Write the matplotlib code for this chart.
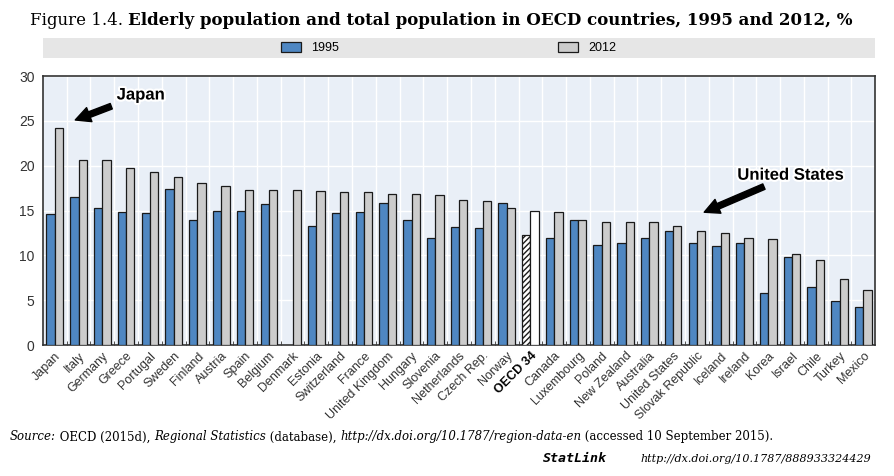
import matplotlib.pyplot as plt
import matplotlib.patheffects as pe
from matplotlib.patches import Rectangle
import numpy as np

countries = ["Japan", "Italy", "Germany", "Greece", "Portugal", "Sweden", "Finland",
             "Austria", "Spain", "Belgium", "Denmark", "Estonia", "Switzerland", "France",
             "United Kingdom", "Hungary", "Slovenia", "Netherlands", "Czech Rep.", "Norway",
             "OECD 34", "Canada", "Luxembourg", "Poland", "New Zealand", "Australia",
             "United States", "Slovak Republic", "Iceland", "Ireland", "Korea", "Israel",
             "Chile", "Turkey", "Mexico"]
y1995 = [14.6, 16.5, 15.3, 14.9, 14.7, 17.4, 14.0, 15.0, 15.0, 15.7, np.nan, 13.3, 14.7, 14.8,
         15.8, 14.0, 12.0, 13.2, 13.1, 15.9, 12.3, 12.0, 13.9, 11.2, 11.4, 12.0,
         12.7, 11.4, 11.1, 11.4, 5.8, 9.8, 6.5, 4.9, 4.3]
y2012 = [24.2, 20.7, 20.6, 19.7, 19.3, 18.8, 18.1, 17.7, 17.3, 17.3, 17.3, 17.2, 17.1, 17.1,
         16.8, 16.8, 16.7, 16.2, 16.1, 15.3, 15.0, 14.8, 14.0, 13.7, 13.7, 13.7,
         13.3, 12.7, 12.5, 11.9, 11.8, 10.2, 9.5, 7.4, 6.1]

blue = "#4f87c2"
grey = "#cccccc"
sans = ["Liberation Sans Narrow", "Liberation Sans", "DejaVu Sans"]
serif = ["DejaVu Serif"]

fig = plt.figure(figsize=(8.94, 4.76), dpi=100)
ax = fig.add_axes([0.048, 0.275, 0.931, 0.565])

x = np.arange(len(countries))
w = 0.35
oecd = countries.index("OECD 34")
c95 = [blue] * len(x)
c12 = [grey] * len(x)
c95[oecd] = "white"
c12[oecd] = "white"
b1 = ax.bar(x - w / 2, y1995, w, color=c95, edgecolor="#1a1a1a", linewidth=0.9, zorder=3)
b2 = ax.bar(x + w / 2, y2012, w, color=c12, edgecolor="#1a1a1a", linewidth=0.9, zorder=3)
b1[oecd].set_hatch("//////")

ax.set_facecolor("#e9eff7")
ax.set_xlim(-0.5, len(x) - 0.5)
ax.set_ylim(0, 30)
ax.set_yticks(range(0, 31, 5))
ax.set_xticks(x)
ax.set_xticks(x[:-1] + 0.5, minor=True)
ax.grid(True, which="minor", axis="x", color="white", lw=1.0, zorder=0)
ax.grid(True, which="major", axis="y", color="white", lw=1.0, zorder=0)
ax.tick_params(axis="x", which="both", length=3, direction="in", color="#333333")
ax.tick_params(axis="y", length=0, labelsize=10, labelcolor="#333333", pad=6)
ax.set_xticklabels(countries, rotation=45, ha="right", rotation_mode="anchor",
                   fontsize=9, family=sans, color="#333333")
ax.get_xticklabels()[oecd].set_fontweight("bold")
ax.get_xticklabels()[oecd].set_color("black")
for lab in ax.get_yticklabels():
    lab.set_family(sans)
for s in ax.spines.values():
    s.set_color("#333333")
    s.set_linewidth(1.2)

shadow = [pe.withStroke(linewidth=3, foreground="white")]
arrow = dict(arrowstyle="simple,head_width=0.9,head_length=0.9,tail_width=0.35",
             fc="black", ec="black")
ax.annotate("Japan", xy=(0.75, 25.0), xytext=(2.6, 27.9), fontsize=12, fontweight="bold",
            family=sans[1:], va="center", arrowprops=arrow, path_effects=shadow, zorder=5)
ax.annotate("United States", xy=(27.2, 14.7), xytext=(28.7, 18.95), fontsize=12,
            fontweight="bold", family=sans[1:], va="center", arrowprops=arrow,
            path_effects=shadow, zorder=5)

# legend band
fig.patches.append(Rectangle((0.048, 0.878), 0.931, 0.043, transform=fig.transFigure,
                             facecolor="#e6e6e6", edgecolor="none"))
fig.legend([b1[0], b2[0]], ["1995", "2012"], ncol=2, loc="center",
           bbox_to_anchor=(0.502, 0.899), frameon=False, columnspacing=17.5,
           handlelength=1.6, handleheight=0.9, prop={"family": sans, "size": 9})

# title
t = fig.text(0.033, 0.957, "Figure 1.4. ", family=serif, fontsize=12, va="center")
ax.annotate("Elderly population and total population in OECD countries, 1995 and 2012, %",
            xy=(1, 0), xycoords=t, va="bottom", ha="left", family=serif,
            fontsize=12, fontweight="bold", annotation_clip=False)

# source
parts = [("Source:", "italic"), (" OECD (2015d), ", "normal"),
         ("Regional Statistics", "italic"), (" (database), ", "normal"),
         ("http://dx.doi.org/10.1787/region-data-en", "italic"),
         (" (accessed 10 September 2015).", "normal")]
prev = fig.text(0.011, 0.075, parts[0][0], style=parts[0][1], family=serif, fontsize=8.5)
for txt, st in parts[1:]:
    prev = ax.annotate(txt, xy=(1, 0), xycoords=prev, va="bottom", ha="left",
                       style=st, family=serif, fontsize=8.5, annotation_clip=False)

fig.text(0.974, 0.03, "http://dx.doi.org/10.1787/888933324429", ha="right",
         style="italic", family=serif, fontsize=8)
fig.text(0.607, 0.03, "StatLink", ha="left", style="italic", fontweight="bold",
         family=["DejaVu Sans Mono"], fontsize=9.5)

fig.savefig("out.png", dpi=100)
